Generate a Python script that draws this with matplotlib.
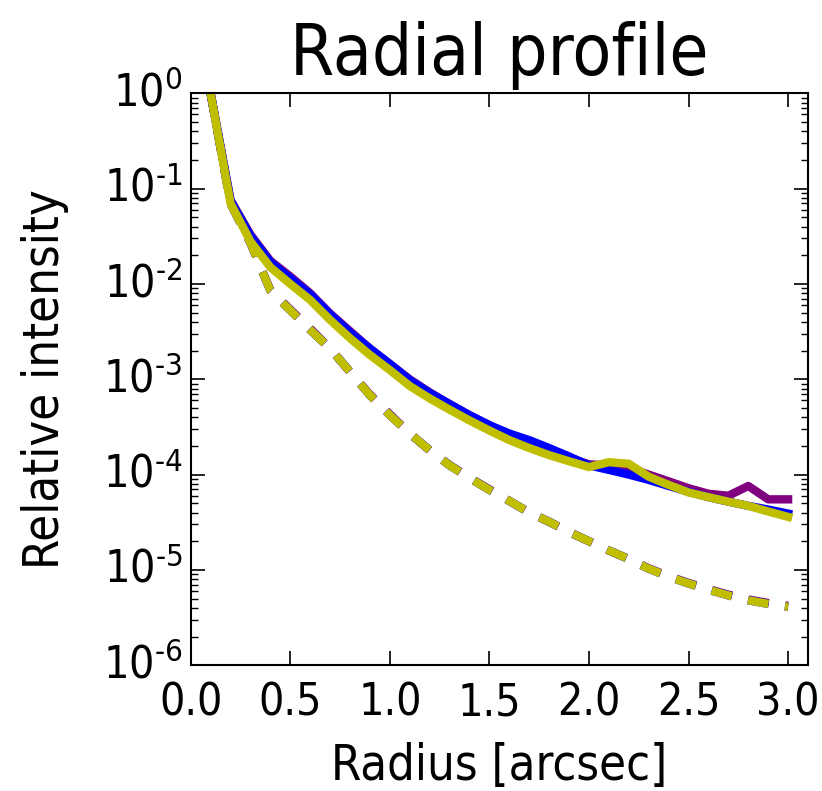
import matplotlib
matplotlib.use("Agg")
import matplotlib.pyplot as plt
from matplotlib.ticker import FuncFormatter
import numpy as np

plt.style.use("classic")
plt.rcParams["font.family"] = "DejaVu Sans"
plt.rcParams["font.stretch"] = "condensed"
plt.rcParams["mathtext.fontset"] = "custom"
plt.rcParams["mathtext.rm"] = "DejaVu Sans:stretch=condensed"
plt.rcParams["mathtext.default"] = "regular"
plt.rcParams["axes.unicode_minus"] = False
plt.rcParams["lines.scale_dashes"] = False
plt.rcParams["axes.linewidth"] = 1.5

radius = np.round(np.arange(0.1, 3.01, 0.1), 1)

# solid profiles
purple_solid = [1.0, 0.076, 0.033, 0.0175, 0.012, 0.008, 0.0049, 0.0032, 0.0021, 0.00145,
                0.001, 0.00073, 0.00055, 0.00042, 0.00033, 0.00026, 0.00021, 0.00018, 0.00015, 0.000128,
                0.000125, 0.000118, 0.0001, 0.000085, 0.000072, 0.000063, 0.00006, 0.000076, 0.000055, 0.000055]
blue_solid = [1.0, 0.075, 0.032, 0.017, 0.0115, 0.0078, 0.0048, 0.0031, 0.0021, 0.00145,
              0.00098, 0.00072, 0.00055, 0.00042, 0.00033, 0.00027, 0.00023, 0.00019, 0.000155, 0.000125,
              0.000112, 0.0001, 0.000088, 0.000076, 0.000066, 0.000058, 0.000052, 0.000047, 0.000043, 0.000039]
yellow_solid = [1.0, 0.07, 0.028, 0.015, 0.01, 0.0068, 0.0042, 0.0027, 0.0018, 0.00125,
                0.00085, 0.00063, 0.00048, 0.00037, 0.00029, 0.00023, 0.00019, 0.00016, 0.000138, 0.00012,
                0.000135, 0.00013, 0.000095, 0.000078, 0.000065, 0.000058, 0.000052, 0.000047, 0.000041, 0.000036]

# dashed profiles
purple_dashed = [1.0, 0.07, 0.027, 0.0086, 0.0054, 0.0034, 0.0021, 0.0012, 0.00069, 0.00043,
                 0.00027, 0.00018, 0.000126, 0.000093, 0.00007, 0.000053, 0.00004, 0.000032, 0.000025, 0.00002,
                 0.000016, 0.000013, 0.0000104, 0.0000086, 0.0000073, 0.0000063, 0.0000055, 0.0000049, 0.0000045, 0.0000042]
blue_dashed = [1.0, 0.07, 0.027, 0.0085, 0.0053, 0.0033, 0.0021, 0.0012, 0.00068, 0.00042,
               0.00027, 0.00018, 0.000125, 0.000092, 0.000069, 0.000053, 0.00004, 0.000032, 0.000025, 0.00002,
               0.000016, 0.000013, 0.0000103, 0.0000085, 0.0000072, 0.0000062, 0.0000054, 0.0000048, 0.0000044, 0.0000041]
yellow_dashed = [1.0, 0.07, 0.027, 0.0085, 0.0053, 0.0033, 0.0021, 0.0012, 0.00068, 0.00042,
                 0.00027, 0.00018, 0.000125, 0.000092, 0.000069, 0.000053, 0.00004, 0.000032, 0.000025, 0.00002,
                 0.000016, 0.000013, 0.0000103, 0.0000085, 0.0000072, 0.0000062, 0.0000054, 0.0000048, 0.0000044, 0.0000041]


def pow10_label(value, pos):
    exp = int(round(np.log10(value)))
    if exp < 0:
        return r"$10^{\text{-}%d}$" % -exp
    return r"$10^{%d}$" % exp


fig = plt.figure(figsize=(8.22, 7.91), dpi=100)
ax = fig.add_axes([0.232, 0.159, 0.751, 0.723])

lw = 6
dash = (15, 12)
ax.plot(radius, purple_dashed, color="purple", lw=lw, dashes=dash)
ax.plot(radius, blue_dashed, color="blue", lw=lw, dashes=dash)
ax.plot(radius, yellow_dashed, color="y", lw=lw, dashes=dash)
ax.plot(radius, purple_solid, color="purple", lw=lw)
ax.plot(radius, blue_solid, color="blue", lw=lw)
ax.plot(radius, yellow_solid, color="y", lw=lw)

ax.set_yscale("log")
ax.set_xlim(0, 3.1)
ax.set_ylim(1e-6, 1)
ax.set_xticks([0.0, 0.5, 1.0, 1.5, 2.0, 2.5, 3.0])
ax.yaxis.set_major_formatter(FuncFormatter(pow10_label))
ax.tick_params(which="major", length=10, width=1.2, labelsize=32)
ax.tick_params(which="minor", length=5, width=1.0)
ax.tick_params(axis="x", pad=12)
ax.tick_params(axis="y", pad=6)
ax.set_xlabel("Radius [arcsec]", fontsize=35, labelpad=12)
ax.set_ylabel("Relative intensity", fontsize=35, labelpad=24)
ax.set_title("Radial profile", fontsize=51, y=1.02)

fig.savefig("out.png", dpi=100)
